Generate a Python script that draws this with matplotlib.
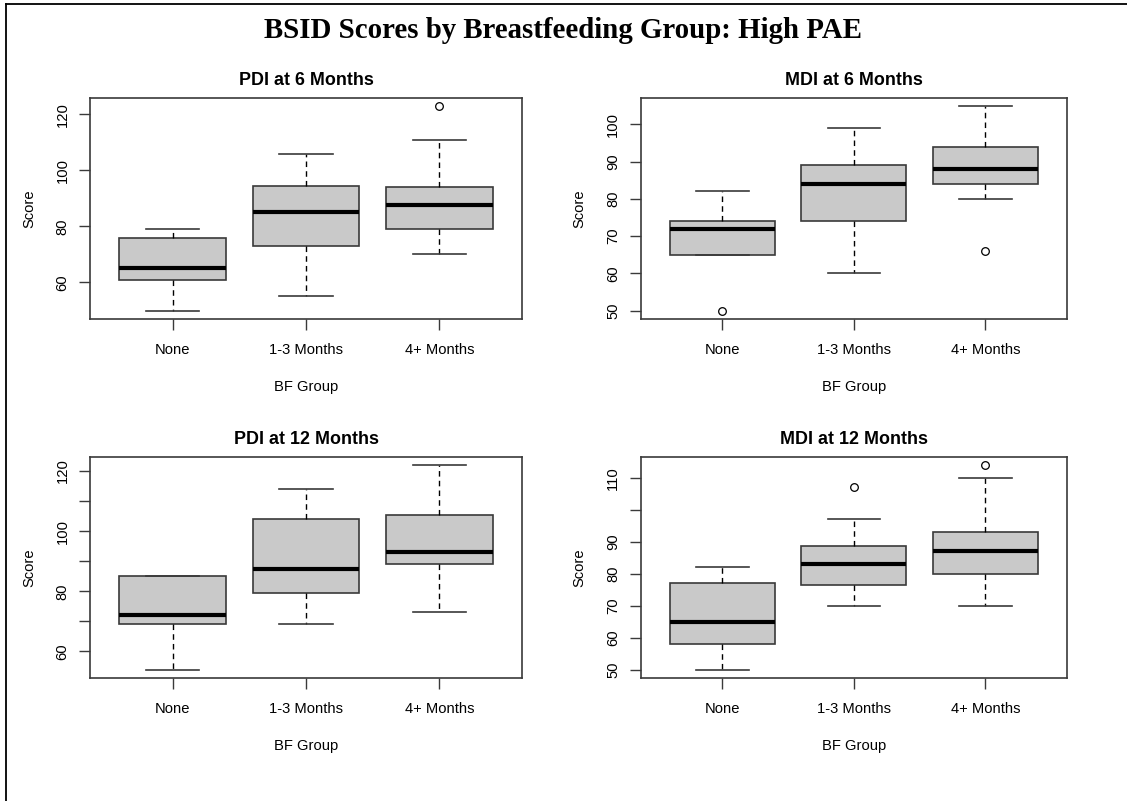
import matplotlib
matplotlib.use("Agg")
import matplotlib.pyplot as plt
from matplotlib.lines import Line2D

plt.rcParams['font.family'] = ['Liberation Sans', 'DejaVu Sans']

groups = ["None", "1-3 Months", "4+ Months"]

# five-number summaries: (whislo, q1, med, q3, whishi)
pdi6 = [(50, 61, 65, 76, 79), (55, 73, 85, 94.5, 106), (70, 79, 87.5, 94, 111)]
pdi6_out = [[], [], [123]]
mdi6 = [(65, 65, 72, 74, 82), (60, 74, 84, 89, 99), (80, 84, 88, 94, 105)]
mdi6_out = [[50], [], [66]]
pdi12 = [(54, 69, 72, 85, 85), (69, 79.5, 87.5, 104, 114), (73, 89, 93, 105.5, 122)]
pdi12_out = [[], [], []]
mdi12 = [(50, 58, 65, 77, 82), (70, 76.5, 83, 88.5, 97), (70, 80, 87, 93, 110)]
mdi12_out = [[], [107], [114]]

titles = ["PDI at 6 Months", "MDI at 6 Months", "PDI at 12 Months", "MDI at 12 Months"]
yticks = [[60, 80, 100, 120],
          [50, 60, 70, 80, 90, 100],
          [60, 70, 80, 90, 100, 110, 120],
          [50, 60, 70, 80, 90, 100, 110]]
yticklabels = [["60", "80", "100", "120"],
               ["50", "60", "70", "80", "90", "100"],
               ["60", "", "80", "", "100", "", "120"],
               ["50", "60", "70", "80", "90", "", "110"]]

W, H = 1127, 801
fig = plt.figure(figsize=(W / 100, H / 100), dpi=100)

# panel boxes in pixels: left, top, right, bottom
boxes = [(90, 97.7, 522, 318.7), (640.7, 97.7, 1067, 318.7),
         (90, 456.7, 522, 677.7), (640.7, 456.7, 1067, 677.7)]

panels = [(pdi6, pdi6_out), (mdi6, mdi6_out), (pdi12, pdi12_out), (mdi12, mdi12_out)]
edge = "#3a3a3a"

for i, ((summ, outs), (l, t, r, b)) in enumerate(zip(panels, boxes)):
    ax = fig.add_axes([l / W, (H - b) / H, (r - l) / W, (b - t) / H])
    stats = []
    for g, s, o in zip(groups, summ, outs):
        stats.append(dict(label=g, whislo=s[0], q1=s[1], med=s[2], q3=s[3],
                          whishi=s[4], fliers=o))
    ax.bxp(stats, positions=[1, 2, 3], widths=0.8, capwidths=0.4, patch_artist=True,
           boxprops=dict(facecolor="#C9C9C9", edgecolor=edge, linewidth=1.2),
           medianprops=dict(color="black", linewidth=3, solid_capstyle="butt"),
           whiskerprops=dict(color="black", linewidth=1, linestyle=(0, (4, 3))),
           capprops=dict(color=edge, linewidth=1.2),
           flierprops=dict(marker="o", markersize=5.5, markerfacecolor="none",
                           markeredgecolor="black", markeredgewidth=0.9))
    # R style ranges: 4% padding
    allv = [v for s in summ for v in s] + [v for o in outs for v in o]
    pad = (max(allv) - min(allv)) * 0.04
    ax.set_ylim(min(allv) - pad, max(allv) + pad)
    ax.set_xlim(0.38, 3.62)
    ax.set_yticks(yticks[i])
    ax.set_yticklabels(yticklabels[i], rotation=90, va="center")
    ax.set_xticks([1, 2, 3])
    ax.set_xticklabels(groups)
    ax.tick_params(length=7.7, width=1, color=edge, labelsize=10.6, pad=7)
    ax.tick_params(axis="x", pad=9.5)
    for sp in ax.spines.values():
        sp.set_color(edge)
        sp.set_linewidth(1.2)
    ax.set_title(titles[i], fontsize=12.9, fontweight="bold", pad=9)
    ax.set_ylabel("Score", fontsize=10.6)
    ax.set_xlabel("BF Group", fontsize=10.6)
    ax.yaxis.set_label_coords(-54 / (r - l), 0.5)
    ax.xaxis.set_label_coords(0.5, -61 / (b - t))

fig.text(563 / W, 1 - 31 / H, "BSID Scores by Breastfeeding Group: High PAE",
         family="Liberation Serif", fontweight="bold", fontsize=20.8,
         ha="center", va="center")

# screenshot frame on left and top
fig.add_artist(Line2D([5.7 / W, 5.7 / W], [0, 1 - 4.3 / H], color="black", lw=1.3))
fig.add_artist(Line2D([5.7 / W, 1], [1 - 4.3 / H, 1 - 4.3 / H], color="black", lw=1.3))

fig.savefig("out.png", dpi=100)
